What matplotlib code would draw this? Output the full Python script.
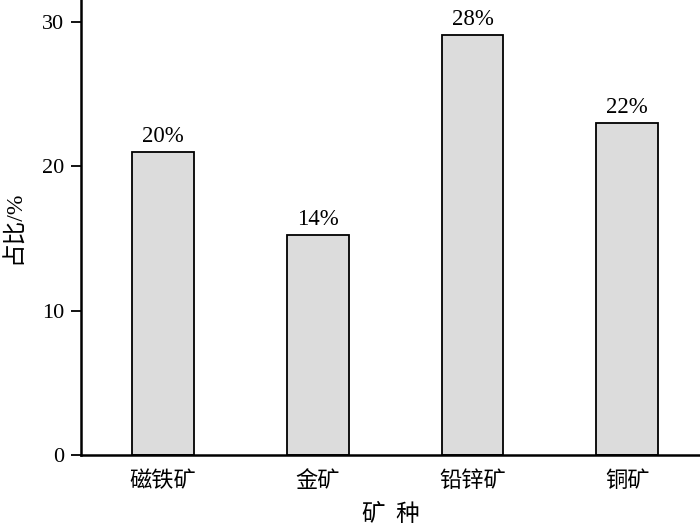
import matplotlib
matplotlib.use('Agg')
import matplotlib.pyplot as plt

plt.rcParams['font.family'] = ['Liberation Serif', 'Noto Sans CJK SC']

# data
minerals = ['磁铁矿', '金矿', '铅锌矿', '铜矿']
heights = [21.0, 15.2, 29.1, 23.0]
labels = ['20%', '14%', '28%', '22%']

fig = plt.figure(figsize=(7, 5.29), dpi=100)
ax = fig.add_axes([0.1157, 0.1399, 0.8843, 0.8601])

x = range(len(minerals))
bars = ax.bar(x, heights, width=0.4, color='#dcdcdc', edgecolor='black', linewidth=1.3)

for b, lab in zip(bars, labels):
    ax.text(b.get_x() + b.get_width() / 2, b.get_height() + 0.35, lab,
            ha='center', va='bottom', fontsize=16.5)

ax.set_xlim(-0.53, 3.47)
ax.set_ylim(0, 31.5)
ax.set_yticks([0, 10, 20, 30])
ax.set_xticks(list(x))
ax.set_xticklabels(minerals, fontsize=16, family=['Noto Sans CJK SC'], fontweight='light')
ax.tick_params(axis='x', length=0, pad=10)
ax.tick_params(axis='y', length=7, width=1.3, labelsize=16, direction='out', pad=5)

for s in ['top', 'right']:
    ax.spines[s].set_visible(False)
for s in ['left', 'bottom']:
    ax.spines[s].set_linewidth(1.8)

ax.set_ylabel('占比/%', fontsize=17, labelpad=12, fontweight='light')
ax.set_xlabel('矿  种', fontsize=17, labelpad=8, family=['Noto Sans CJK SC'], fontweight='light')

fig.savefig('out.png', dpi=100)
